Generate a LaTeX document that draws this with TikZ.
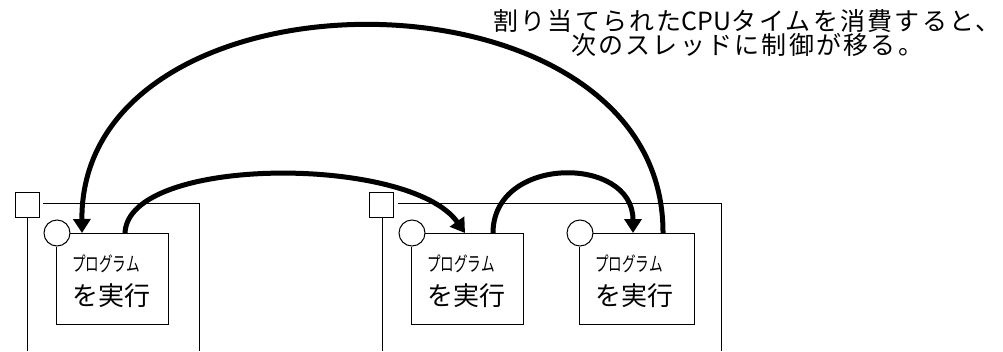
\documentclass[tikz,border=0pt]{standalone}
\usepackage{fontspec}
\newfontfamily\jp{Noto Sans CJK JP}
\newfontfamily\jpwide[LetterSpace=9]{Noto Sans CJK JP}
\usetikzlibrary{arrows.meta}
\tikzset{
  thin line/.style={line width=1pt, draw=black},
  flow/.style={line width=5pt, draw=black, -{Triangle[width=17pt,length=14pt]}},
  small text/.style={anchor=west, font=\jp\fontsize{20}{20}\selectfont, xscale=0.68, inner sep=0pt},
  big text/.style={anchor=west, font=\jp\fontsize{26}{26}\selectfont, inner sep=0pt},
}
\begin{document}
\begin{tikzpicture}[x=1pt,y=-1pt]
\useasboundingbox (0,0) rectangle (1003,351);
% process 1
\draw[thin line] (15,192) rectangle (39,217);
\draw[thin line] (43,203) -- (199,203) -- (199,351);
\draw[thin line] (27,218) -- (27,351);
% process 2
\draw[thin line] (369,192) rectangle (393,217);
\draw[thin line] (398,203) -- (721,203) -- (721,351);
\draw[thin line] (382,218) -- (382,351);
% thread boxes
\foreach \L/\R in {56/168, 411/523, 579/694}{
  \draw[thin line] (\L+1,233) circle[radius=13pt];
  \draw[thin line] (\L+14,233) -- (\R,233) -- (\R,324) -- (\L,324) -- (\L,247);
}
\node[small text] (t1a) at (72,264) {プログラム};
\node[big text]   (t1b) at (72,296) {を実行};
\node[small text] (t2a) at (427,264) {プログラム};
\node[big text]   (t2b) at (427,296) {を実行};
\node[small text] (t3a) at (595,264) {プログラム};
\node[big text]   (t3b) at (595,296) {を実行};
% connector endpoints
\coordinate (a1in)  at (82,233);
\coordinate (a1out) at (125,233);
\coordinate (a2in)  at (465,233);
\coordinate (a2out) at (493,233);
\coordinate (a3in)  at (633,233);
\coordinate (a3out) at (663,233);
\draw[flow] (a3out) .. controls (664,-43) and (80,-43) .. (a1in);
\draw[flow] (a1out) .. controls (128,155) and (410,155) .. (a2in);
\draw[flow] (a2out) .. controls (493,155) and (633,155) .. (a3in);
% label
\node[align=center, font=\jpwide\fontsize{25}{23}\selectfont, inner sep=0pt] (lbl) at (747,33)
  {割り当てられた{\jp\fontsize{25}{23}\selectfont CPU}タイムを消費すると、\\次のスレッドに制御が移る。};
\end{tikzpicture}
\end{document}
